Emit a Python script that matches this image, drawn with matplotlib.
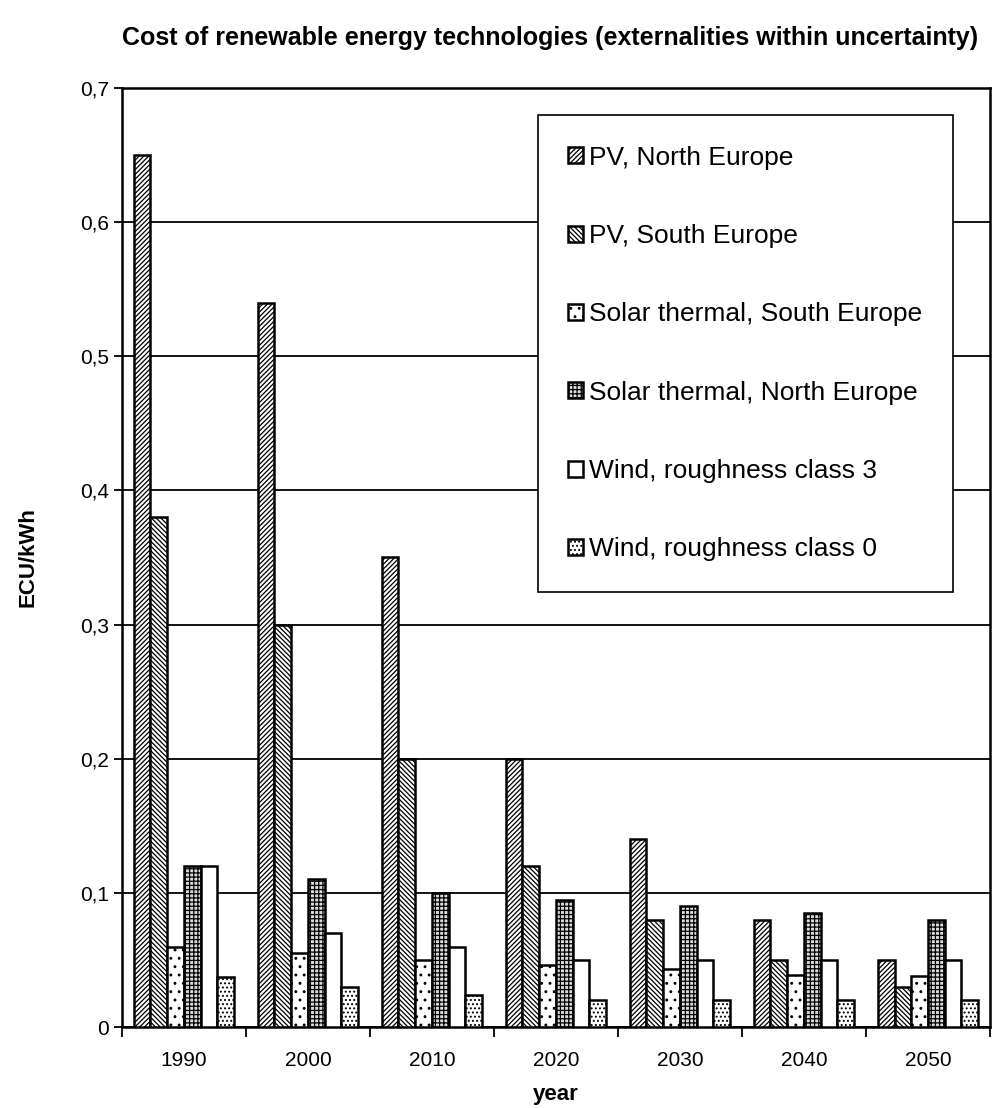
import numpy as np
import matplotlib
matplotlib.use("Agg")
import matplotlib.pyplot as plt
from matplotlib.ticker import FixedLocator, FuncFormatter

years = ["1990", "2000", "2010", "2020", "2030", "2040", "2050"]
pv_north = [0.65, 0.54, 0.35, 0.20, 0.14, 0.08, 0.05]
pv_south = [0.38, 0.30, 0.20, 0.12, 0.08, 0.05, 0.03]
st_south = [0.06, 0.055, 0.05, 0.046, 0.043, 0.039, 0.038]
st_north = [0.12, 0.11, 0.10, 0.095, 0.09, 0.085, 0.08]
wind3 = [0.12, 0.07, 0.06, 0.05, 0.05, 0.05, 0.05]
wind0 = [0.037, 0.03, 0.024, 0.02, 0.02, 0.02, 0.02]

series = [
    ("PV, North Europe", pv_north, "white", "///////"),
    ("PV, South Europe", pv_south, "white", "\\\\\\\\\\\\\\"),
    ("Solar thermal, South Europe", st_south, "white", ".."),
    ("Solar thermal, North Europe", st_north, "#dddddd", "++++"),
    ("Wind, roughness class 3", wind3, "white", ""),
    ("Wind, roughness class 0", wind0, "white", "...."),
]

plt.rcParams["font.family"] = ["Liberation Sans", "DejaVu Sans"]
plt.rcParams["hatch.linewidth"] = 0.9

fig = plt.figure(figsize=(9.99, 11.08), dpi=100)
ax = fig.add_axes([0.122, 0.0731, 0.869, 0.8475])

x = np.arange(len(years))
w = 0.135
for i, (name, vals, fc, hatch) in enumerate(series):
    ax.bar(x + (i - 2.5) * w, vals, w, color=fc, edgecolor="black",
           linewidth=1.8, hatch=hatch, label=name, zorder=3)

ax.set_xlim(-0.5, len(years) - 0.5)
ax.set_ylim(0, 0.7)
ax.yaxis.set_major_locator(FixedLocator(np.arange(0, 0.71, 0.1)))
ax.yaxis.set_major_formatter(FuncFormatter(
    lambda v, p: "0" if abs(v) < 1e-9 else f"{v:.1f}".replace(".", ",")))
ax.yaxis.grid(True, color="black", linewidth=1.3, zorder=0)
ax.set_axisbelow(True)

ax.set_xticks(x)
ax.set_xticklabels(years)
ax.set_xticks(np.arange(-0.5, len(years)), minor=True)
ax.tick_params(axis="x", which="major", length=0, labelsize=15, pad=17)
ax.tick_params(axis="x", which="minor", length=7, width=1.3, direction="out")
ax.tick_params(axis="y", length=6, width=1.3, labelsize=15)

for s in ax.spines.values():
    s.set_linewidth(1.8)

ax.set_xlabel("year", fontsize=16, fontweight="bold", labelpad=10)
ax.set_ylabel("ECU/kWh", fontsize=16, fontweight="bold", labelpad=30)
fig.text(0.551, 0.966, "Cost of renewable energy technologies (externalities within uncertainty)",
         ha="center", va="center", fontsize=18, fontweight="bold")

leg = ax.legend(loc="upper right", bbox_to_anchor=(0.957, 0.971), fontsize=19,
                frameon=True, fancybox=False, edgecolor="black", framealpha=1,
                handlelength=0.55, handleheight=0.55, handletextpad=0.25,
                labelspacing=2.06, borderpad=1.15, borderaxespad=0)
leg.get_frame().set_linewidth(1.2)

fig.savefig("out.png", dpi=100, facecolor="white")
